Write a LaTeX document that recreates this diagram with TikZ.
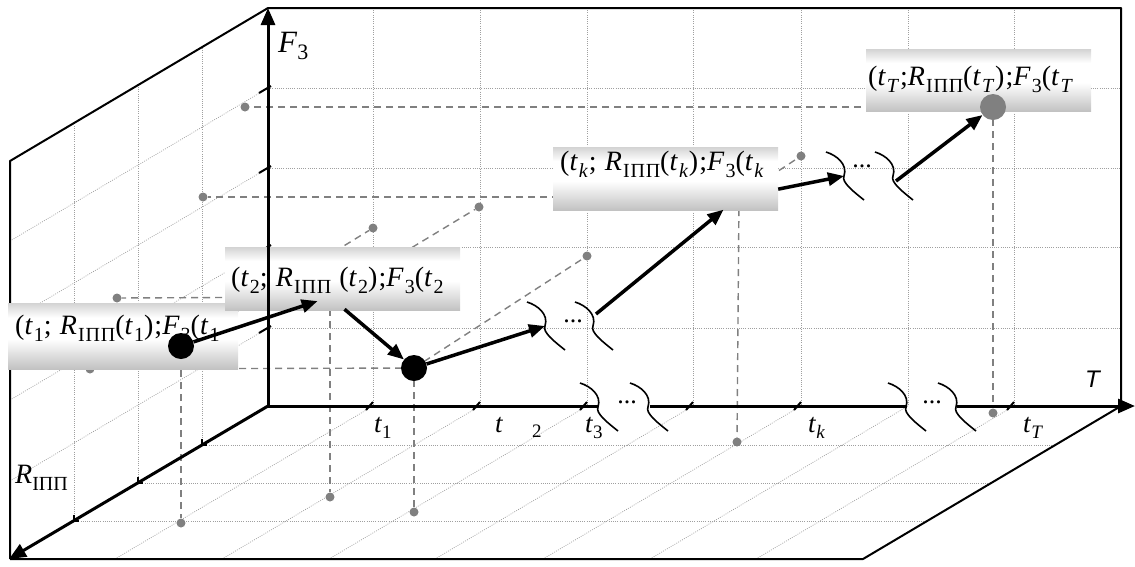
\documentclass[tikz,border=0pt]{standalone}
\usepackage{fontspec}
\setmainfont{Liberation Serif}
\newfontfamily\lbl[LetterSpace=4]{Liberation Serif}
\newfontfamily\sansf{Liberation Sans}
\usetikzlibrary{arrows.meta}
\newcommand\sbs[2][20]{\raisebox{-0.25em}{\fontsize{#1}{#1}\selectfont #2}}
\newcommand\iv[1]{\textit{#1}}
\pgfdeclareverticalshading{lblshade}{100bp}{color(0bp)=(black!24); color(25bp)=(black!24); color(48bp)=(white); color(64bp)=(white); color(75bp)=(black!17); color(100bp)=(black!17)}
\tikzset{
  frame/.style={line width=2pt, black},
  axisline/.style={line width=3pt, black},
  axisarrow/.style={line width=3pt, black, -{Triangle[length=17pt,width=14pt]}},
  gridl/.style={gray!75, line width=0.7pt, dash pattern=on 0.9pt off 1.3pt},
  proj/.style={gray, line width=1.4pt, dash pattern=on 7pt off 5pt},
  gdot/.style={circle, fill=gray, inner sep=0pt, minimum size=9pt},
  bdot/.style={circle, fill=black, inner sep=0pt, minimum size=26pt},
  tdot/.style={circle, fill=gray, inner sep=0pt, minimum size=26pt},
  traj/.style={line width=3.5pt, black, -{Triangle[length=16pt,width=13pt]}},
  lbox/.style={rectangle, inner sep=0pt, anchor=north west, shading=lblshade},
  ltext/.style={anchor=base west, inner sep=0pt, font=\lbl\fontsize{28}{32}\selectfont},
  tlab/.style={anchor=base west, inner sep=0pt, font=\fontsize{27}{30}\selectfont},
  tickm/.style={line width=2pt, black},
  brk/.style={line width=1.6pt, black},
  dotsl/.style={inner sep=0pt, font=\fontsize{26}{26}\selectfont},
  brkc/.pic={\draw[brk] (0,0) .. controls (10,3) and (22,12) .. (18,24) .. controls (15,30) and (28,40) .. (38,48);}
}
\begin{document}
\begin{tikzpicture}[x=1pt,y=-1pt,line join=round]
\useasboundingbox (0,0) rectangle (1135,566);
% grid on back wall
\foreach \x in {373,480,587,693,801,908,1014} \draw[gridl] (\x,8) -- (\x,406);
\foreach \y in {88,168,247,328} \draw[gridl] (268,\y) -- (1121,\y);
% grid on left wall
\foreach \x/\yt/\yb in {202/48/445,138/87/483,74/126/521} \draw[gridl] (\x,\yt) -- (\x,\yb);
\foreach \y in {88,168,247,328} \draw[gridl] (268,\y) -- (10,{\y+153});
% grid on floor
\foreach \y/\xl/\xr in {445/202/1055,483/138/991,521/74/927} \draw[gridl] (\xl,\y) -- (\xr,\y);
\foreach \x in {373,480,587,693,801,908,1014} \draw[gridl] (\x,406) -- ({\x-258},559);
% frame
\draw[frame] (10,559) -- (10,161) -- (268,8) -- (1121,8) -- (1121,406);
\draw[frame] (10,559) -- (863,559) -- (1121,406);
% trajectory points
\coordinate (p1) at (181,346);
\coordinate (p2) at (330,297);
\coordinate (p3) at (414,368);
\coordinate (pk) at (739,197);
\coordinate (pT) at (993,107);
% projections
\node[gdot] (w1) at (181,523) {};
\node[gdot] (v1) at (373,228) {};
\draw[proj] (p1) -- (w1);
\draw[proj] (p1) -- (v1);
\node[gdot] (l2) at (117,298) {};
\node[gdot] (w2) at (330,497) {};
\node[gdot] (v2) at (479,207) {};
\draw[proj] (p2) -- (l2);
\draw[proj] (p2) -- (w2);
\draw[proj] (p2) -- (v2);
\node[gdot] (l3) at (90,369) {};
\node[gdot] (w3) at (414,512) {};
\node[gdot] (v3) at (587,256) {};
\draw[proj] (p3) -- (l3);
\draw[proj] (p3) -- (w3);
\draw[proj] (p3) -- (v3);
\node[gdot] (lk) at (203,197) {};
\node[gdot] (wk) at (737,442) {};
\node[gdot] (vk) at (801,156) {};
\draw[proj] (pk) -- (lk);
\draw[proj] (pk) -- (wk);
\draw[proj] (pk) -- (vk);
\node[gdot] (lT) at (245,107) {};
\node[gdot] (wT) at (993,413) {};
\draw[proj] (pT) -- (lT);
\draw[proj] (pT) -- (wT);
% F3 ticks
\foreach \y in {88,168,247,328} \draw[tickm] (271,{\y-2}) -- (259,{\y+5});
% label boxes
\node[lbox, minimum width=230pt, minimum height=66pt] (box1) at (8,303) {};
\node[lbox, minimum width=235pt, minimum height=63pt] (box2) at (225,247) {};
\node[lbox, minimum width=225pt, minimum height=63pt] (boxk) at (553,147) {};
\node[lbox, minimum width=225pt, minimum height=62pt] (boxT) at (866,49) {};
\node[ltext] (txt1) at (15,334) {(\iv{t}\sbs{1}; \iv{R}\sbs{ІПП}(\iv{t}\sbs{1});\iv{F}\sbs{3}(\iv{t}\sbs{1}};
\node[ltext] (txt2) at (231,286) {(\iv{t}\sbs{2}; \iv{R}\sbs{ІПП} (\iv{t}\sbs{2});\iv{F}\sbs{3}(\iv{t}\sbs{2}};
\node[ltext] (txtk) at (560,170) {(\iv{t}\sbs{\iv{k}}; \iv{R}\sbs{ІПП}(\iv{t}\sbs{\iv{k}});\iv{F}\sbs{3}(\iv{t}\sbs{\iv{k}}};
\node[ltext] (txtT) at (868,85) {(\iv{t}\sbs{\iv{T}};\iv{R}\sbs{ІПП}(\iv{t}\sbs{\iv{T}});\iv{F}\sbs{3}(\iv{t}\sbs{\iv{T}}};
% axes
\coordinate (O) at (268,406);
\coordinate (Ftop) at (268,8);
\coordinate (Rend) at (9,559);
\coordinate (Tend) at (1135,406);
\coordinate (Ta) at (598,406);
\coordinate (Tb) at (650,406);
\coordinate (Tc) at (907,406);
\coordinate (Td) at (957,406);
\draw[axisarrow] (O) -- (Ftop);
\draw[axisarrow] (O) -- (Rend);
\draw[axisline] (O) -- (Ta);
\draw[axisline] (Tb) -- (Tc);
\draw[axisarrow] (Td) -- (Tend);
% ticks on T axis
\foreach \x in {373,480,587,693,801,1014} \draw[tickm] (\x,402) -- ({\x-7},410);
% ticks on R axis
\foreach \x/\y in {202/445,138/483,74/521} \draw[tickm] (\x,{\y-6}) -- (\x,\y) -- ({\x+5},\y);
% breaks on T axis
\pic at (580,383) {brkc};
\pic at (630,383) {brkc};
\pic at (888,383) {brkc};
\pic at (938,383) {brkc};
\node[dotsl] (dA) at (627,402) {...};
\node[dotsl] (dB) at (932,402) {...};
% axis labels
\node[anchor=base west, inner sep=0pt, font=\fontsize{31}{31}\selectfont] (lF) at (278,52) {\iv{F}\sbs[22]{3}};
\node[anchor=base west, inner sep=0pt, font=\fontsize{28}{28}\selectfont] (lR) at (15,483) {\iv{R}\sbs[20]{ІПП}};
\node[anchor=base west, inner sep=0pt, font=\sansf\itshape\fontsize{24}{24}\selectfont] (lT) at (1085,387) {T};
\node[tlab] (lt1) at (374,432) {\iv{t}\sbs[19]{1}};
\node[tlab] (lt2a) at (495,432) {\iv{t}};
\node[tlab] (lt2b) at (532,437) {\fontsize{19}{19}\selectfont 2};
\node[tlab] (lt3) at (585,432) {\iv{t}\sbs[19]{3}};
\node[tlab] (ltk) at (808,432) {\iv{t}\sbs[19]{\iv{k}}};
\node[tlab] (ltT) at (1023,432) {\iv{t}\sbs[19]{\iv{T}}};
% trajectory breaks
\coordinate (b1in) at (545,326);
\coordinate (b1out) at (596,314);
\coordinate (b2in) at (844,176);
\coordinate (b2out) at (896,181);
\pic at (527,302) {brkc};
\pic at (575,302) {brkc};
\pic at (826,152) {brkc};
\pic at (875,152) {brkc};
\node[dotsl] (dC) at (573,321) {...};
\node[dotsl] (dD) at (862,166) {...};
% dots
\node[bdot] (d1) at (p1) {};
\node[bdot] (d3) at (p3) {};
\node[tdot] (dT) at (pT) {};
% trajectory arrows
\draw[traj, shorten >=13pt] (d1) -- (p2);
\draw[traj, shorten <=19pt] (p2) -- (d3);
\draw[traj] (d3) -- (b1in);
\draw[traj, shorten >=20pt] (b1out) -- (pk);
\draw[traj, shorten <=40pt] (pk) -- (b2in);
\draw[traj] (b2out) -- (dT);
\end{tikzpicture}
\end{document}
